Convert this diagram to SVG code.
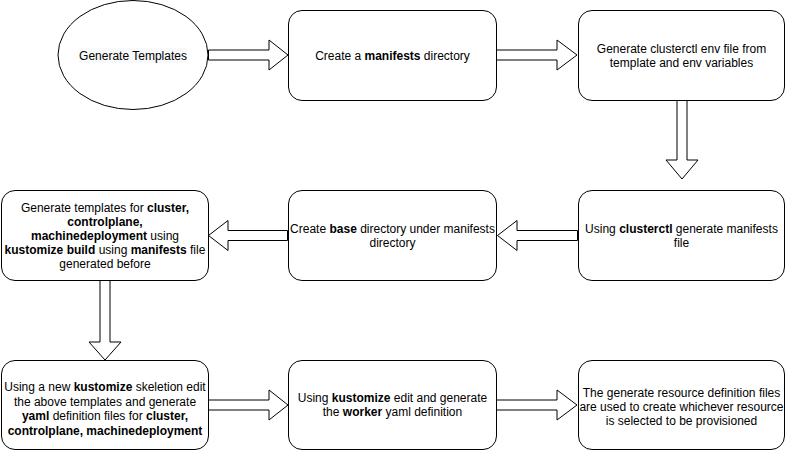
<svg xmlns="http://www.w3.org/2000/svg" width="786" height="451" viewBox="0 0 786 451">
<style>
.box{fill:#fff;stroke:#000;stroke-width:1}
.arr{fill:#fff;stroke:#000;stroke-width:1;stroke-linejoin:miter}
text{font-family:"Liberation Sans",Arial,Helvetica,sans-serif;font-size:12px;fill:#000;text-anchor:middle}
.b{font-weight:bold}
</style>
<rect width="786" height="451" fill="#fff"/>
<g id="connectors">
<path class="arr" d="M208.5,50 L269,50 L269,40 L288,55 L269,70 L269,60 L208.5,60 Z"/>
<path class="arr" d="M496.5,50 L557,50 L557,40 L577,55 L557,70 L557,60 L496.5,60 Z"/>
<path class="arr" d="M677,100.5 L677,160 L666,160 L682,179 L698,160 L687,160 L687,100.5 Z"/>
<path class="arr" d="M577.5,230.5 L517,230.5 L517,220.5 L497.5,235.5 L517,250.5 L517,240.5 L577.5,240.5 Z"/>
<path class="arr" d="M287.5,230.5 L228,230.5 L228,220.5 L208.5,235.5 L228,250.5 L228,240.5 L287.5,240.5 Z"/>
<path class="arr" d="M100,280.5 L100,342 L89,342 L105,360 L121,342 L110,342 L110,280.5 Z"/>
<path class="arr" d="M208.5,400 L269,400 L269,390 L288,405 L269,420 L269,410 L208.5,410 Z"/>
<path class="arr" d="M496.5,400 L557,400 L557,390 L577,405 L557,420 L557,410 L496.5,410 Z"/>
</g>
<g id="start">
<ellipse class="box" cx="133" cy="55" rx="75" ry="54.5"/>
<rect x="79" y="48" width="108" height="15" fill="#f8f9fa"/>
<text x="133" y="60">Generate Templates</text>
</g>
<g id="manifests">
<rect class="box" x="288.5" y="10.5" width="208" height="90" rx="13.5"/>
<text x="392.5" y="60">Create a <tspan class="b">manifests</tspan> directory</text>
</g>
<g id="envfile">
<rect class="box" x="578.5" y="10.5" width="206" height="90" rx="13.5"/>
<text x="681.5" y="53">Generate clusterctl env file from</text>
<text x="681.5" y="67">template and env variables</text>
</g>
<g id="clusterctl">
<rect class="box" x="578.5" y="190.5" width="206" height="90" rx="13.5"/>
<text x="681.5" y="233">Using <tspan class="b">clusterctl</tspan> generate manifests</text>
<text x="681.5" y="247">file</text>
</g>
<g id="base">
<rect class="box" x="288.5" y="190.5" width="208" height="90" rx="13.5"/>
<text x="392.5" y="233">Create <tspan class="b">base</tspan> directory under manifests</text>
<text x="392.5" y="247">directory</text>
</g>
<g id="templates">
<rect class="box" x="1.5" y="190.5" width="207" height="90" rx="13.5"/>
<text x="105" y="212">Generate templates for <tspan class="b">cluster,</tspan></text>
<text x="105" y="226" class="b">controlplane,</text>
<text x="105" y="240"><tspan class="b">machinedeployment</tspan> using</text>
<text x="105" y="254"><tspan class="b">kustomize build</tspan> using <tspan class="b">manifests</tspan> file</text>
<text x="105" y="268">generated before</text>
</g>
<g id="skeleton">
<rect class="box" x="1.5" y="360.5" width="207" height="89" rx="13.5"/>
<text x="105" y="391">Using a new <tspan class="b">kustomize</tspan> skeletion edit</text>
<text x="105" y="405.5">the above templates and generate</text>
<text x="105" y="420"><tspan class="b">yaml</tspan> definition files for <tspan class="b">cluster,</tspan></text>
<text x="105" y="434.5" class="b">controlplane, machinedeployment</text>
</g>
<g id="worker">
<rect class="box" x="288.5" y="360.5" width="208" height="89" rx="13.5"/>
<text x="392.5" y="402">Using <tspan class="b">kustomize</tspan> edit and generate</text>
<text x="392.5" y="416">the <tspan class="b">worker</tspan> yaml definition</text>
</g>
<g id="provision">
<rect class="box" x="578.5" y="360.5" width="206" height="89" rx="13.5"/>
<text x="681.5" y="397">The generate resource definition files</text>
<text x="681.5" y="411">are used to create whichever resource</text>
<text x="681.5" y="425">is selected to be provisioned</text>
</g>
</svg>
